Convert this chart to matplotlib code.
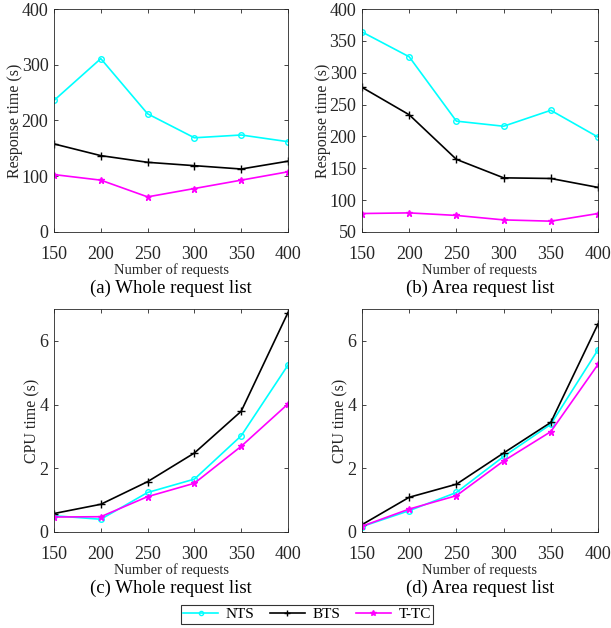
import matplotlib
matplotlib.use("Agg")
import matplotlib.pyplot as plt
from matplotlib.lines import Line2D

plt.rcParams['font.family'] = ['Liberation Serif', 'DejaVu Serif']
plt.rcParams['mathtext.fontset'] = 'stix'

# Data
requests = [150, 200, 250, 300, 350, 400]

resp_whole_nts = [236, 311, 212, 169, 174, 162]
resp_whole_bts = [158, 137, 125, 119, 113, 127]
resp_whole_ttc = [103, 93, 63, 78, 93, 108]

resp_area_nts = [364, 325, 224, 216, 241, 199]
resp_area_bts = [277, 234, 164, 135, 134, 120]
resp_area_ttc = [79, 80, 76, 69, 67, 79]

cpu_whole_nts = [0.51, 0.40, 1.24, 1.66, 3.02, 5.24]
cpu_whole_bts = [0.58, 0.87, 1.58, 2.48, 3.79, 6.89]
cpu_whole_ttc = [0.47, 0.48, 1.11, 1.53, 2.69, 4.02]

cpu_area_nts = [0.17, 0.67, 1.24, 2.37, 3.38, 5.72]
cpu_area_bts = [0.23, 1.09, 1.50, 2.48, 3.44, 6.53]
cpu_area_ttc = [0.18, 0.72, 1.14, 2.23, 3.15, 5.26]

series_names = ['NTS', 'BTS', 'T-TC']
colors = ['#00FFFF', 'black', '#FF00FF']
markers = ['o', '+', '*']
msizes = [4, 6, 5]

panels = [
    # (rect px: left, top, width, height), data, ylim, yticks, ylabel, caption
    ((54, 9, 234, 223), (resp_whole_nts, resp_whole_bts, resp_whole_ttc),
     (0, 400), [0, 100, 200, 300, 400], 'Response time (s)', '(a) Whole request list'),
    ((362, 9, 236, 223), (resp_area_nts, resp_area_bts, resp_area_ttc),
     (50, 400), [50, 100, 150, 200, 250, 300, 350, 400], 'Response time (s)', '(b) Area request list'),
    ((54, 309, 234, 223), (cpu_whole_nts, cpu_whole_bts, cpu_whole_ttc),
     (0, 7), [0, 2, 4, 6], 'CPU time (s)', '(c) Whole request list'),
    ((362, 309, 236, 223), (cpu_area_nts, cpu_area_bts, cpu_area_ttc),
     (0, 7), [0, 2, 4, 6], 'CPU time (s)', '(d) Area request list'),
]

W, H = 611, 628
fig = plt.figure(figsize=(W / 100, H / 100), dpi=100)

tick_col = '#262626'

for (l, t, w, h), data, ylim, yticks, ylabel, caption in panels:
    ax = fig.add_axes([l / W, 1 - (t + h) / H, w / W, h / H])
    for vals, c, m, ms in zip(data, colors, markers, msizes):
        mfc = 'none' if m == 'o' else c
        ax.plot(requests, vals, color=c, marker=m, markersize=ms,
                markerfacecolor=mfc, markeredgewidth=1.0, linewidth=1.2)
    ax.set_xlim(150, 400)
    ax.set_ylim(*ylim)
    ax.set_xticks(requests)
    ax.set_yticks(yticks)
    ax.tick_params(direction='in', top=True, right=True, labelsize=13,
                   colors=tick_col, length=3, width=0.6)
    ax.tick_params(axis='x', pad=10)
    ax.tick_params(axis='y', pad=4)
    for s in ax.spines.values():
        s.set_linewidth(0.6)
        s.set_color(tick_col)
    ax.set_xlabel('Number of requests', fontsize=10.5, color=tick_col, labelpad=0)
    ax.set_ylabel(ylabel, fontsize=11.5, color=tick_col, labelpad=-1)
    cx = (l + w / 2) / W
    fig.text(cx, 1 - (t + h + 56) / H, caption, ha='center', va='center',
             fontsize=13.5, color='black')

handles = [Line2D([], [], color=c, marker=m, markersize=ms - 1,
                  markerfacecolor=('none' if m == 'o' else c), linewidth=1.2)
           for c, m, ms in zip(colors, markers, msizes)]
leg = fig.legend(handles, series_names, loc='center', ncol=3,
                 bbox_to_anchor=(307 / W, 1 - 614.5 / H), fontsize=11,
                 frameon=True, fancybox=False, edgecolor='black',
                 handlelength=2.3, columnspacing=1.0, handletextpad=0.5,
                 borderpad=0.15)
leg.get_frame().set_linewidth(0.8)

fig.savefig('out.png', dpi=100)
